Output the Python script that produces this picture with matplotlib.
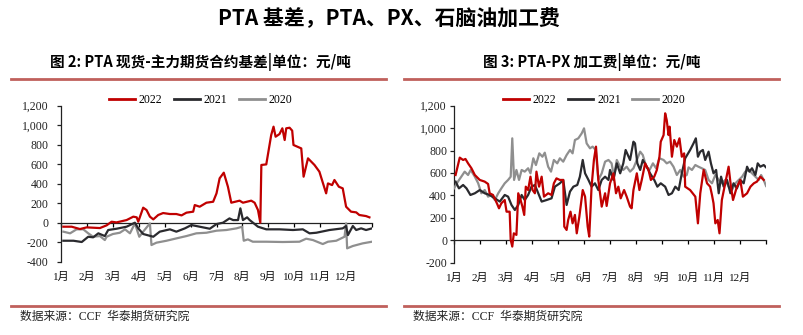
import matplotlib
matplotlib.use("Agg")
import matplotlib.pyplot as plt
from matplotlib.lines import Line2D
from matplotlib.ticker import FuncFormatter

# x positions are in months from Jan 1 (0 = start of 1月, 12 = end of 12月)
months = ["1月", "2月", "3月", "4月", "5月", "6月", "7月", "8月", "9月", "10月", "11月", "12月"]
years = ["2022", "2021", "2020"]

# figure 2: PTA spot - main futures basis
basis_2022_x = [0.09, 0.41, 0.73, 0.99, 1.5, 1.76, 1.95, 2.14, 2.53, 2.79, 2.92, 2.98, 3.17, 3.3, 3.43,
                3.56, 3.75, 3.94, 4.2, 4.45, 4.65, 4.84, 5.1, 5.16, 5.35, 5.61, 5.87, 6.0, 6.12, 6.28,
                6.44, 6.57, 6.89, 7.02, 7.34, 7.47, 7.6, 7.69, 7.73, 7.92, 8.11, 8.2, 8.28, 8.43, 8.54,
                8.63, 8.69, 8.82, 8.92, 8.97, 9.27, 9.36, 9.53, 9.78, 9.97, 10.13, 10.23, 10.3, 10.46,
                10.55, 10.72, 10.87, 11.0, 11.19, 11.39, 11.51, 11.77, 11.9]
basis_2022_y = [-41, -41, -65, -48, -55, -27, 10, 3, 27, 62, 55, 10, 154, 130, 62,
                34, 79, 99, 89, 89, 75, 103, 113, 181, 164, 205, 215, 301, 455, 513,
                369, 205, 226, 205, 226, 205, 130, 0, 592, 598, 899, 985, 882, 909, 968,
                848, 968, 974, 944, 797, 762, 472, 660, 592, 523, 386, 301, 403, 386,
                438, 369, 352, 164, 113, 106, 79, 68, 55]

basis_2021_x = [0.09, 0.48, 0.8, 1.05, 1.24, 1.44, 1.69, 1.82, 2.14, 2.53, 2.85, 2.98, 3.17, 3.56, 3.81,
                4.2, 4.45, 4.78, 5.03, 5.35, 5.74, 6.0, 6.25, 6.5, 6.64, 6.83, 6.92, 7.02, 7.18, 7.28,
                7.6, 7.92, 8.43, 8.95, 9.33, 9.59, 9.85, 10.36, 10.87, 11.0, 11.07, 11.26, 11.39,
                11.58, 11.77, 12.0]
basis_2021_y = [-185, -185, -198, -144, -150, -109, -137, -75, -62, -41, 0, -58, -116, -144, -92,
                -68, -92, -58, -24, -41, -62, -14, 0, 44, 27, 27, 147, 27, 55, 27,
                -41, -68, -68, -75, -68, -109, -103, -75, -58, -34, -127, -34, -75,
                -58, -75, -58]

basis_2020_x = [0.09, 0.35, 0.6, 0.86, 1.05, 1.24, 1.5, 1.69, 1.76, 2.0, 2.27, 2.47, 2.66, 2.85, 3.02,
                3.17, 3.43, 3.49, 3.68, 4.07, 4.45, 4.84, 5.22, 5.61, 6.0, 6.38, 6.77, 6.99, 7.05, 7.21,
                7.4, 7.92, 8.56, 9.2, 9.46, 9.72, 10.1, 10.3, 10.62, 10.94, 11.0, 11.04, 11.26, 11.64, 12.0]
basis_2020_y = [-92, -109, -68, -68, -109, -144, -137, -178, -144, -116, -103, -68, -109, -7, -144,
                -92, -7, -229, -205, -185, -161, -137, -109, -103, -82, -75, -58, -41, -185, -171,
                -195, -195, -198, -195, -164, -178, -219, -195, -185, -144, -7, -263, -239, -212, -195]

# figure 3: PTA-PX processing fee
fee_2022_x = [0.06, 0.22, 0.35, 0.44, 0.54, 0.67, 0.8, 0.99, 1.18, 1.31,
              1.37, 1.5, 1.66, 1.73, 1.82, 1.95, 2.02, 2.14, 2.18, 2.24,
              2.3, 2.4, 2.47, 2.56, 2.63, 2.7, 2.76, 2.85, 2.94, 3.02,
              3.11, 3.17, 3.27, 3.37, 3.46, 3.62, 3.75, 3.84, 3.94, 4.07,
              4.2, 4.24, 4.33, 4.39, 4.48, 4.56, 4.65, 4.72, 4.82, 4.95,
              5.04, 5.14, 5.2, 5.29, 5.38, 5.46, 5.55, 5.68, 5.81, 5.87,
              6.0, 6.13, 6.23, 6.32, 6.41, 6.54, 6.64, 6.77, 6.83, 6.9,
              7.03, 7.13, 7.22, 7.35, 7.48, 7.57, 7.7, 7.8, 7.9, 7.95,
              8.06, 8.12, 8.18, 8.25, 8.29, 8.38, 8.47, 8.57, 8.67, 8.76,
              8.85, 8.89, 9.08, 9.28, 9.38, 9.47, 9.6, 9.73, 9.85, 9.92,
              9.98, 10.05, 10.14, 10.21, 10.3, 10.43, 10.56, 10.65, 10.73, 10.88,
              11.01, 11.11, 11.27, 11.4, 11.53, 11.65, 11.78, 11.91]
fee_2022_y = [582, 737, 716, 725, 686, 642, 582, 538, 523, 502,
              419, 404, 324, 285, 330, 359, 255, 255, 3, -56,
              62, 48, 419, 359, 300, 226, 478, 448, 567, 448,
              419, 612, 478, 567, 389, 419, 404, 508, 552, 538,
              538, 122, 92, 181, 255, 151, 226, 62, 211, 448,
              389, 122, 33, 478, 716, 835, 538, 300, 419, 306,
              508, 597, 419, 478, 374, 448, 389, 300, 285, 448,
              597, 448, 538, 686, 627, 538, 567, 627, 745, 879,
              938, 1132, 1072, 938, 1013, 745, 894, 835, 909, 745,
              775, 478, 448, 389, 151, 419, 627, 508, 478, 404,
              330, 151, 181, 62, 359, 508, 656, 478, 359, 478,
              538, 389, 419, 478, 508, 523, 567, 538]

fee_2021_x = [0.06, 0.19, 0.35, 0.48, 0.63, 0.8, 0.99, 1.18, 1.37, 1.57,
              1.76, 1.95, 2.08, 2.21, 2.34, 2.47, 2.6, 2.72, 2.85, 2.98,
              3.11, 3.24, 3.37, 3.56, 3.75, 3.88, 4.07, 4.2, 4.33, 4.46,
              4.59, 4.74, 4.84, 4.95, 5.04, 5.17, 5.29, 5.42, 5.55, 5.68,
              5.81, 5.94, 6.0, 6.13, 6.26, 6.39, 6.51, 6.6, 6.77, 6.9,
              6.96, 7.05, 7.16, 7.26, 7.41, 7.54, 7.7, 7.82, 7.95, 8.12,
              8.25, 8.38, 8.51, 8.64, 8.76, 8.89, 9.08, 9.21, 9.3, 9.38,
              9.47, 9.57, 9.66, 9.79, 9.88, 9.98, 10.08, 10.18, 10.27, 10.37,
              10.5, 10.63, 10.75, 10.88, 11.01, 11.14, 11.27, 11.36, 11.46, 11.59,
              11.68, 11.78, 11.91, 12.0]
fee_2021_y = [523, 463, 493, 463, 404, 419, 448, 419, 404, 374,
              345, 404, 389, 315, 270, 315, 404, 359, 404, 478,
              493, 419, 345, 359, 374, 478, 508, 538, 315, 434,
              478, 493, 567, 716, 597, 538, 478, 508, 448, 538,
              567, 538, 627, 538, 686, 597, 686, 805, 716, 879,
              864, 686, 627, 716, 656, 597, 538, 478, 508, 478,
              404, 419, 478, 448, 597, 731, 805, 864, 909, 745,
              790, 805, 716, 790, 686, 597, 627, 419, 567, 478,
              538, 419, 508, 463, 538, 508, 656, 612, 642, 582,
              686, 656, 671, 650]

fee_2020_x = [0.0, 0.15, 0.28, 0.41, 0.54, 0.64, 0.8, 0.93, 1.05, 1.18,
              1.31, 1.44, 1.57, 1.7, 1.82, 1.95, 2.08, 2.18, 2.24, 2.31,
              2.4, 2.5, 2.6, 2.72, 2.85, 2.94, 3.05, 3.15, 3.28, 3.4,
              3.49, 3.62, 3.73, 3.84, 3.97, 4.07, 4.2, 4.33, 4.46, 4.56,
              4.65, 4.78, 4.91, 5.0, 5.1, 5.23, 5.33, 5.45, 5.55, 5.68,
              5.81, 5.94, 6.06, 6.15, 6.26, 6.39, 6.51, 6.64, 6.77, 6.9,
              7.03, 7.16, 7.26, 7.39, 7.52, 7.65, 7.77, 7.9, 8.06, 8.18,
              8.31, 8.44, 8.57, 8.7, 8.83, 8.95, 9.02, 9.15, 9.28, 9.4,
              9.53, 9.66, 9.79, 9.92, 10.05, 10.18, 10.3, 10.43, 10.56, 10.69,
              10.82, 10.95, 11.08, 11.2, 11.33, 11.46, 11.59, 11.72, 11.81, 11.91, 12.0]
fee_2020_y = [463, 523, 567, 612, 582, 627, 567, 508, 419, 448,
              389, 404, 359, 419, 463, 508, 538, 567, 909, 538,
              627, 538, 627, 612, 642, 597, 731, 671, 775, 745,
              781, 656, 612, 716, 686, 731, 701, 760, 805, 775,
              894, 909, 953, 998, 864, 820, 835, 805, 538, 597,
              701, 716, 686, 567, 716, 656, 627, 656, 612, 642,
              716, 790, 760, 656, 627, 686, 642, 731, 716, 686,
              701, 656, 582, 627, 567, 582, 650, 627, 671, 656,
              642, 627, 538, 508, 582, 538, 508, 538, 478, 448,
              508, 538, 567, 612, 627, 597, 567, 538, 582, 538, 484]

COLORS = ["#C00000", "#2A2A2E", "#8F8F8F"]
RULE = "#C0605C"
CJK_BOLD = ["Noto Sans CJK SC", "DejaVu Sans"]
SERIF = ["Liberation Serif", "Noto Sans CJK SC"]


def style_axis(ax, ymin, ymax, label_pad):
    ax.set_xlim(0, 12)
    ax.set_ylim(ymin, ymax)
    ax.set_yticks(range(ymin, ymax + 1, 200))
    ax.yaxis.set_major_formatter(FuncFormatter(lambda v, p: f"{int(v):,}"))
    for side in ("top", "right"):
        ax.spines[side].set_visible(False)
    ax.spines["bottom"].set_position(("data", 0))
    ax.spines["bottom"].set_zorder(2)
    for side in ("left", "bottom"):
        ax.spines[side].set_color("#222222")
        ax.spines[side].set_linewidth(0.9)
    ax.tick_params(axis="y", direction="out", length=3, width=0.9, pad=label_pad,
                   labelsize=8.5, colors="#222222")
    ax.set_xticks(range(0, 13))
    ax.tick_params(axis="x", direction="out", length=3, width=0.9, labelbottom=False)
    for lab in ax.get_yticklabels():
        lab.set_family(SERIF)
    ax.patch.set_visible(False)
    for i, m in enumerate(months):
        ax.text(i, -0.097, m, transform=ax.get_xaxis_transform(),
                ha="center", va="center", fontsize=8, family=SERIF, color="#111111")


def add_legend(fig, xc):
    handles = [Line2D([], [], color=c, lw=2) for c in COLORS]
    fig.legend(handles, years, loc="center", bbox_to_anchor=(xc, 0.7015), ncol=3,
               frameon=False, handlelength=2.2, handletextpad=0.3, columnspacing=1.0,
               prop={"family": SERIF, "size": 8.5})


fig = plt.figure(figsize=(8.04, 3.35), dpi=100)

fig.text(0.484, 0.946, "PTA 基差，PTA、PX、石脑油加工费", ha="center", va="center",
         fontsize=15, fontweight="bold", family=CJK_BOLD)
fig.text(0.2488, 0.815, "图 2: PTA 现货-主力期货合约基差|单位：元/吨", ha="center", va="center",
         fontsize=10.5, fontweight="bold", family=CJK_BOLD)
fig.text(0.736, 0.815, "图 3: PTA-PX 加工费|单位：元/吨", ha="center", va="center",
         fontsize=10.5, fontweight="bold", family=CJK_BOLD)

for x0, x1 in [(11, 386), (404, 779)]:
    for yy in (0.764, 0.0875):
        fig.add_artist(Line2D([x0 / 804, x1 / 804], [yy, yy], color=RULE, lw=2))

for xs in (20 / 804, 413 / 804):
    fig.text(xs, 0.054, "数据来源：CCF  华泰期货研究院", ha="left", va="center",
             fontsize=8.5, family=["Liberation Serif", "Noto Sans CJK SC"], color="#222222")

ax1 = fig.add_axes([0.0759, 0.2188, 0.3868, 0.4657])
for (xs, ys), c in zip([(basis_2022_x, basis_2022_y), (basis_2021_x, basis_2021_y),
                        (basis_2020_x, basis_2020_y)][::-1], COLORS[::-1]):
    ax1.plot(xs, ys, color=c, lw=1.6, zorder=3)
style_axis(ax1, -400, 1200, 6)
add_legend(fig, 0.25)

ax2 = fig.add_axes([0.5647, 0.2158, 0.3881, 0.4687])
for (xs, ys), c in zip([(fee_2022_x, fee_2022_y), (fee_2021_x, fee_2021_y),
                        (fee_2020_x, fee_2020_y)][::-1], COLORS[::-1]):
    ax2.plot(xs, ys, color=c, lw=1.6, zorder=3)
style_axis(ax2, -200, 1200, 2)
add_legend(fig, 0.739)

fig.savefig("out.png", dpi=100)
